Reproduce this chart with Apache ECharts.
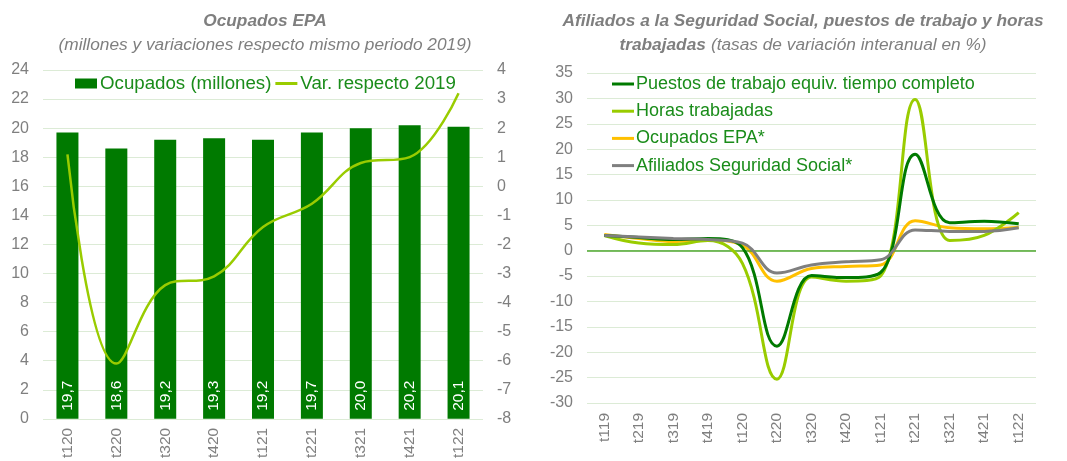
<!DOCTYPE html>
<html>
<head>
<meta charset="utf-8">
<script src="https://cdn.jsdelivr.net/npm/echarts/dist/echarts.min.js"></script>
<style>
html,body{margin:0;padding:0;background:#fff;}
#chart{width:1067px;height:461px;}
</style>
</head>
<body>
<div id="chart"></div>
<script>
// ---- Left chart data ----
const catsLeft = ['t120','t220','t320','t420','t121','t221','t321','t421','t122'];
const ocupadosMillones = [19.7, 18.6, 19.2, 19.3, 19.2, 19.7, 20.0, 20.2, 20.1];
const varRespecto2019 = [1.1, -6.1, -3.4, -3.1, -1.4, -0.6, 0.8, 1.0, 3.2];

// ---- Right chart data ----
const catsRight = ['t119','t219','t319','t419','t120','t220','t320','t420','t121','t221','t321','t421','t122'];
const puestosTrabajo = [3.0, 2.6, 2.2, 2.4, 0.6, -18.8, -4.9, -5.3, -4.3, 19.0, 5.5, 5.8, 5.3];
const horasTrabajadas = [3.0, 1.5, 1.2, 2.0, -2.5, -25.3, -5.2, -6.0, -5.0, 29.8, 2.0, 3.0, 7.5];
const ocupadosEPA = [3.2, 2.4, 1.8, 2.1, 1.1, -6.0, -3.5, -3.1, -2.8, 5.9, 4.5, 4.3, 4.6];
const afiliadosSS = [3.0, 2.7, 2.4, 2.2, 1.5, -4.4, -2.8, -2.2, -1.8, 4.1, 3.8, 3.8, 4.5];

const FONT = 'Liberation Sans, Arial, sans-serif';
const GRAY = '#7f7f7f';
const GRID_COLOR = '#dcebd6';
const LEGEND_TXT = '#1a8c1a';
const DARK_GREEN = '#007a00';
const LIGHT_GREEN = '#99cc00';
const YELLOW = '#ffc000';
const LINE_GRAY = '#7f7f7f';
const LINE_ICON = 'path://M0,0 L22,0 L22,3 L0,3 Z';

const chart = echarts.init(document.getElementById('chart'), null, {renderer: 'canvas'});

const xLabelStyle = {color: GRAY, fontSize: 15.5, fontFamily: FONT};
const yLabelStyle = {color: GRAY, fontSize: 16, fontFamily: FONT};
const titleRich = {
  b: {fontSize: 17.3, fontWeight: 'bold', fontStyle: 'italic', color: GRAY, fontFamily: FONT, lineHeight: 24},
  i: {fontSize: 17.3, fontWeight: 'normal', fontStyle: 'italic', color: GRAY, fontFamily: FONT, lineHeight: 24}
};

const option = {
  backgroundColor: '#fff',
  animation: false,
  textStyle: {fontFamily: FONT},
  title: [
    {
      left: 265, top: 9, textAlign: 'center', padding: 0,
      text: '{b|Ocupados EPA}\n{i|(millones y variaciones respecto mismo periodo 2019)}',
      textStyle: {rich: titleRich}
    },
    {
      left: 803, top: 9, textAlign: 'center', padding: 0,
      text: '{b|Afiliados a la Seguridad Social, puestos de trabajo y horas}\n{b|trabajadas} {i|(tasas de variación interanual en %)}',
      textStyle: {rich: titleRich}
    }
  ],
  legend: [
    {
      left: 75, top: 74, padding: 0,
      itemWidth: 22, itemHeight: 10, itemGap: 4,
      textStyle: {color: LEGEND_TXT, fontSize: 18.7, fontFamily: FONT, padding: [0, 0, 0, -2]},
      data: [
        {name: 'Ocupados (millones)', icon: 'rect'},
        {name: 'Var. respecto 2019', icon: LINE_ICON}
      ]
    },
    {
      left: 612, top: 75, orient: 'vertical', padding: 0,
      itemWidth: 22, itemHeight: 14, itemGap: 9.2,
      textStyle: {color: LEGEND_TXT, fontSize: 18, fontFamily: FONT, padding: [0, 0, 0, -3]},
      data: [
        {name: 'Puestos de trabajo equiv. tiempo completo', icon: LINE_ICON},
        {name: 'Horas trabajadas', icon: LINE_ICON},
        {name: 'Ocupados EPA*', icon: LINE_ICON},
        {name: 'Afiliados Seguridad Social*', icon: LINE_ICON}
      ]
    }
  ],
  grid: [
    {left: 43, right: 584, top: 70, bottom: 42},
    {left: 587, right: 31, top: 73, bottom: 58}
  ],
  xAxis: [
    {
      type: 'category', gridIndex: 0, data: catsLeft,
      axisLine: {show: false}, axisTick: {show: false},
      axisLabel: Object.assign({rotate: 90, margin: 9}, xLabelStyle)
    },
    {
      type: 'category', gridIndex: 1, data: catsRight,
      axisLine: {show: false}, axisTick: {show: false},
      axisLabel: Object.assign({rotate: 90, margin: 10}, xLabelStyle)
    }
  ],
  yAxis: [
    {
      type: 'value', gridIndex: 0, min: 0, max: 24, interval: 2,
      axisLine: {show: false}, axisTick: {show: false},
      splitLine: {lineStyle: {color: GRID_COLOR, width: 1}},
      axisLabel: Object.assign({margin: 14}, yLabelStyle)
    },
    {
      type: 'value', gridIndex: 0, min: -8, max: 4, interval: 1, position: 'right',
      axisLine: {show: false}, axisTick: {show: false},
      splitLine: {show: false},
      axisLabel: Object.assign({margin: 14}, yLabelStyle)
    },
    {
      type: 'value', gridIndex: 1, min: -30, max: 35, interval: 5,
      axisLine: {show: false}, axisTick: {show: false},
      splitLine: {lineStyle: {color: GRID_COLOR, width: 1}},
      axisLabel: Object.assign({margin: 14}, yLabelStyle)
    }
  ],
  series: [
    {
      name: 'Ocupados (millones)', type: 'bar', xAxisIndex: 0, yAxisIndex: 0,
      data: ocupadosMillones, barWidth: 22,
      itemStyle: {color: DARK_GREEN},
      label: {
        show: true, position: 'insideBottom', distance: 8, rotate: 90,
        align: 'left', verticalAlign: 'middle',
        color: '#fff', fontSize: 15.5, fontFamily: FONT,
        formatter: p => p.value.toFixed(1).replace('.', ',')
      }
    },
    {
      name: 'Var. respecto 2019', type: 'line', xAxisIndex: 0, yAxisIndex: 1,
      data: varRespecto2019, smooth: 0.4, symbol: 'none', z: 5,
      lineStyle: {color: LIGHT_GREEN, width: 2.5},
      itemStyle: {color: LIGHT_GREEN}
    },
    {
      name: 'Puestos de trabajo equiv. tiempo completo', type: 'line', xAxisIndex: 1, yAxisIndex: 2,
      data: puestosTrabajo, smooth: 0.4, symbol: 'none', z: 6,
      lineStyle: {color: DARK_GREEN, width: 3},
      itemStyle: {color: DARK_GREEN},
      markLine: {
        silent: true, symbol: 'none', label: {show: false},
        lineStyle: {color: '#4ea72e', width: 1.5, type: 'solid'},
        data: [{yAxis: 0}]
      }
    },
    {
      name: 'Horas trabajadas', type: 'line', xAxisIndex: 1, yAxisIndex: 2,
      data: horasTrabajadas, smooth: 0.4, symbol: 'none', z: 5,
      lineStyle: {color: LIGHT_GREEN, width: 3},
      itemStyle: {color: LIGHT_GREEN}
    },
    {
      name: 'Ocupados EPA*', type: 'line', xAxisIndex: 1, yAxisIndex: 2,
      data: ocupadosEPA, smooth: 0.4, symbol: 'none', z: 4,
      lineStyle: {color: YELLOW, width: 3},
      itemStyle: {color: YELLOW}
    },
    {
      name: 'Afiliados Seguridad Social*', type: 'line', xAxisIndex: 1, yAxisIndex: 2,
      data: afiliadosSS, smooth: 0.4, symbol: 'none', z: 7,
      lineStyle: {color: LINE_GRAY, width: 3},
      itemStyle: {color: LINE_GRAY}
    }
  ]
};
chart.setOption(option);
</script>
</body>
</html>
